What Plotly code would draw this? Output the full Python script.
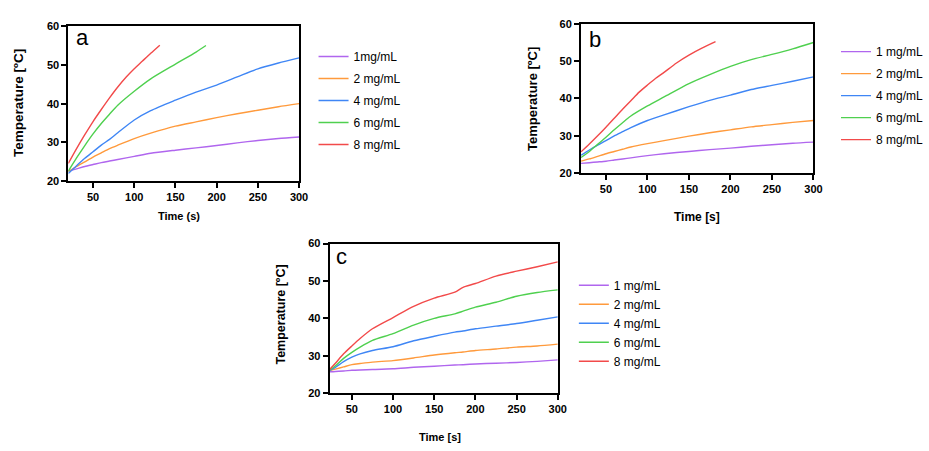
import plotly.graph_objects as go

# ---------------- data ----------------
labels_a = ["1mg/mL", "2 mg/mL", "4 mg/mL", "6 mg/mL", "8 mg/mL"]
labels_bc = ["1 mg/mL", "2 mg/mL", "4 mg/mL", "6 mg/mL", "8 mg/mL"]

# panel a
t_a = [20, 30, 40, 50, 60, 70, 80, 100, 120, 150, 175, 200, 225, 250, 275, 300]
a_1 = [22.6, 23.2, 23.8, 24.3, 24.8, 25.2, 25.6, 26.4, 27.2, 28.0, 28.6, 29.2, 29.9, 30.5, 31.0, 31.4]
a_2 = [22.5, 23.8, 25.0, 26.2, 27.3, 28.4, 29.3, 31.0, 32.4, 34.2, 35.3, 36.4, 37.4, 38.3, 39.2, 40.0]
a_4 = [22.0, 24.0, 25.9, 27.6, 29.3, 30.8, 32.5, 35.8, 38.2, 40.9, 43.0, 44.8, 46.9, 49.0, 50.5, 51.8]
t_a6 = [20, 30, 40, 50, 60, 70, 80, 100, 120, 150, 175, 187]
a_6 = [22.6, 26.0, 29.2, 32.2, 34.9, 37.3, 39.6, 43.2, 46.4, 50.2, 53.3, 55.0]
t_a8 = [20, 30, 40, 50, 60, 70, 80, 90, 100, 110, 120, 131]
a_8 = [24.6, 28.4, 32.0, 35.4, 38.5, 41.5, 44.3, 46.8, 49.0, 51.0, 53.0, 55.1]

# panel b
t_b = [20, 30, 40, 50, 60, 70, 80, 100, 120, 150, 175, 200, 225, 250, 275, 300]
b_1 = [22.6, 22.8, 23.0, 23.2, 23.5, 23.8, 24.1, 24.7, 25.2, 25.8, 26.3, 26.7, 27.2, 27.6, 28.0, 28.3]
b_2 = [23.2, 23.8, 24.5, 25.2, 25.8, 26.4, 27.0, 27.9, 28.7, 29.9, 30.8, 31.6, 32.4, 33.0, 33.6, 34.1]
b_4 = [24.8, 26.2, 27.5, 28.7, 30.0, 31.1, 32.2, 34.1, 35.6, 37.8, 39.5, 40.9, 42.4, 43.5, 44.6, 45.8]
b_6 = [24.2, 25.8, 27.7, 29.6, 31.6, 33.5, 35.3, 38.0, 40.4, 44.0, 46.4, 48.6, 50.4, 51.8, 53.3, 55.0]
t_b8 = [20, 30, 40, 50, 60, 70, 80, 90, 100, 110, 120, 135, 150, 165, 182]
b_8 = [25.7, 27.8, 30.0, 32.3, 34.7, 37.1, 39.4, 41.7, 43.6, 45.4, 47.0, 49.5, 51.6, 53.4, 55.2]

# panel c
t_c = [23, 30, 40, 50, 60, 75, 100, 125, 150, 175, 185, 200, 225, 250, 275, 300]
c_1 = [25.7, 25.8, 25.9, 26.1, 26.2, 26.3, 26.5, 26.9, 27.2, 27.5, 27.6, 27.8, 28.0, 28.2, 28.5, 28.9]
c_2 = [26.0, 26.4, 27.0, 27.6, 27.9, 28.3, 28.7, 29.4, 30.2, 30.8, 31.0, 31.4, 31.8, 32.3, 32.6, 33.1]
c_4 = [26.0, 26.9, 28.4, 29.6, 30.5, 31.4, 32.4, 34.0, 35.2, 36.3, 36.6, 37.2, 37.9, 38.6, 39.5, 40.4]
c_6 = [26.1, 27.3, 29.3, 30.9, 32.3, 34.1, 35.9, 38.2, 40.0, 41.2, 41.9, 43.0, 44.3, 45.9, 46.9, 47.6]
c_8 = [26.3, 28.0, 30.5, 32.6, 34.6, 37.2, 40.2, 43.2, 45.4, 47.0, 48.3, 49.3, 51.3, 52.6, 53.8, 55.1]

colors = ["#b066ee", "#ff9a3c", "#3f86f5", "#4fd04f", "#f24a4a"]

W, H = 929, 451
FONT = "Arial, Liberation Sans, sans-serif"

fig = go.Figure()

panels = [
    ("x", "y", "legend", "a", labels_a, [(t_a, a_1), (t_a, a_2), (t_a, a_4), (t_a6, a_6), (t_a8, a_8)]),
    ("x2", "y2", "legend2", "b", labels_bc, [(t_b, b_1), (t_b, b_2), (t_b, b_4), (t_b, b_6), (t_b8, b_8)]),
    ("x3", "y3", "legend3", "c", labels_bc, [(t_c, c_1), (t_c, c_2), (t_c, c_4), (t_c, c_6), (t_c, c_8)]),
]
for xa, ya, lg, key, labs, series in panels:
    for i, ((t, v), lab, col) in enumerate(zip(series, labs, colors)):
        fig.add_trace(go.Scatter(x=t, y=v, mode="lines", name=lab, xaxis=xa, yaxis=ya,
                                 legend=lg, legendgroup=f"{key}{i}",
                                 line=dict(color=col, width=1.4, shape="spline", smoothing=0.7)))

def px_x(p):
    return p / W

def px_y(p):
    return 1 - p / H

tickfont = dict(family=FONT, size=11, color="black", weight="bold")
axis_common = dict(showline=True, linecolor="black", linewidth=2, mirror=True,
                   ticks="outside", ticklen=5, tickwidth=1.8, tickcolor="black",
                   showgrid=False, zeroline=False, tickfont=tickfont)

fig.update_layout(
    width=W, height=H, margin=dict(l=0, r=0, t=0, b=0),
    paper_bgcolor="white", plot_bgcolor="white",
    font=dict(family=FONT, color="black"),
    xaxis=dict(domain=[px_x(69.3), px_x(303.3)], range=[20, 300], tickvals=[50, 100, 150, 200, 250, 300], anchor="y", **axis_common),
    yaxis=dict(domain=[px_y(180), px_y(20.7)], range=[20, 60], dtick=10, anchor="x", **axis_common),
    xaxis2=dict(domain=[px_x(589.3), px_x(825)], range=[20, 300], tickvals=[50, 100, 150, 200, 250, 300], anchor="y2", **axis_common),
    yaxis2=dict(domain=[px_y(171.7), px_y(18.3)], range=[20, 60], dtick=10, anchor="x2", **axis_common),
    xaxis3=dict(domain=[px_x(334.3), px_x(565.7)], range=[23, 300], tickvals=[50, 100, 150, 200, 250, 300], anchor="y3", **axis_common),
    yaxis3=dict(domain=[px_y(397.7), px_y(244)], range=[20, 60], dtick=10, anchor="x3", **axis_common),
)

leg_common = dict(font=dict(family=FONT, size=12, color="black"), bgcolor="rgba(0,0,0,0)",
                  xanchor="left", yanchor="top", borderwidth=0)
fig.update_layout(
    legend=dict(x=px_x(318), y=px_y(37), traceorder="grouped", tracegroupgap=3, **leg_common),
    legend2=dict(x=px_x(848), y=px_y(32), traceorder="grouped", tracegroupgap=3, **leg_common),
    legend3=dict(x=px_x(582), y=px_y(272), traceorder="grouped", tracegroupgap=0, **leg_common),
)

ann = []
def title_font(s):
    return dict(family=FONT, size=s, color="black", weight="bold")
# y-axis titles
for xp, yp, s in [(19, 100, 13.5), (540, 95, 13), (285, 317, 12.5)]:
    ann.append(dict(text="Temperature [ºC]", x=px_x(xp), y=px_y(yp), xref="paper", yref="paper",
                    textangle=-90, showarrow=False, font=title_font(s), xanchor="center", yanchor="middle"))
# x-axis titles
ann.append(dict(text="Time (s)", x=px_x(182), y=px_y(216), xref="paper", yref="paper", showarrow=False,
                font=title_font(11), xanchor="center", yanchor="middle"))
ann.append(dict(text="Time [s]", x=px_x(707), y=px_y(217), xref="paper", yref="paper", showarrow=False,
                font=title_font(12), xanchor="center", yanchor="middle"))
ann.append(dict(text="Time [s]", x=px_x(446), y=px_y(443), xref="paper", yref="paper", showarrow=False,
                font=title_font(11), xanchor="center", yanchor="middle"))
# panel letters
for txt, xp, yp in [("a", 84, 32), ("b", 603, 34), ("c", 346, 257)]:
    ann.append(dict(text=txt, x=px_x(xp), y=px_y(yp), xref="paper", yref="paper", showarrow=False,
                    font=dict(family=FONT, size=22, color="black"), xanchor="center", yanchor="middle"))
fig.update_layout(annotations=ann)

fig.write_html("out.html")
